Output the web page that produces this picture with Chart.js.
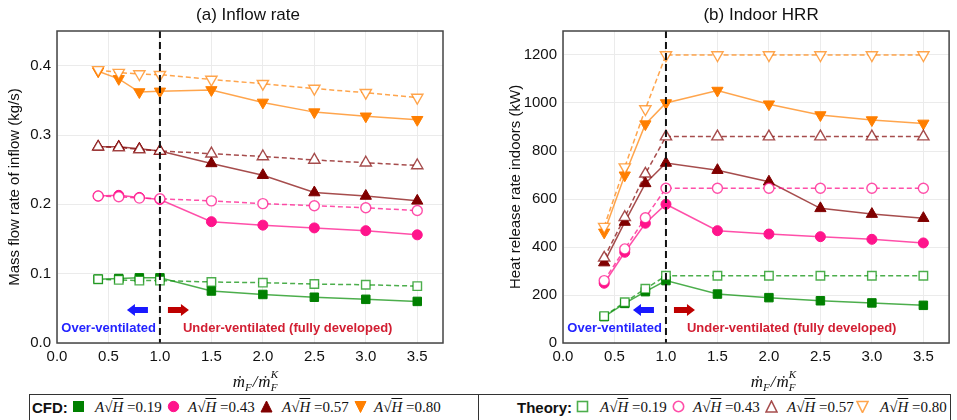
<!DOCTYPE html>
<html lang="en">
  <head>
    <meta charset="utf-8" />
    <title>Inflow rate and indoor HRR</title>
    <script src="https://cdn.jsdelivr.net/npm/chart.js@4.4.1/dist/chart.umd.min.js"></script>
    <style>
      body { margin: 0; width: 957px; height: 420px; background: #fff; position: relative; overflow: hidden; }
      .box { position: absolute; }
      .legend { position: absolute; top: 394px; height: 30px; border: 1.5px solid #333; box-sizing: border-box; }
      .lg { position: absolute; top: 399px; line-height: 16px; white-space: nowrap; }
      .head { font: bold 15px "Liberation Sans", Arial, sans-serif; color: #111; }
      .math { font: 15px "Liberation Serif", "DejaVu Serif", serif; color: #111; }
      .math i { font-style: italic; }
      .ov { text-decoration: overline; }
    </style>
  </head>
  <body>
    <div class="box" style="left:0; top:0; width:480px; height:392px"><canvas id="inflow_chart"></canvas></div>
    <div class="box" style="left:480px; top:0; width:477px; height:392px"><canvas id="hrr_chart"></canvas></div>
    <div class="legend" style="left:29px; width:450px"></div>
    <div class="legend" style="left:478px; width:473px"></div>
    <div id="legend_items"></div>
    <script>
      // fuel ratio m_F / m_F^K
      const ratio = [0.4, 0.6, 0.8, 1.0, 1.5, 2.0, 2.5, 3.0, 3.5];
      const openings = ["0.19", "0.43", "0.57", "0.80"];

      // (a) inflow rate, kg/s
      const inflowCFD_019 = [0.092, 0.093, 0.094, 0.094, 0.075, 0.070, 0.066, 0.063, 0.060];
      const inflowCFD_043 = [0.212, 0.213, 0.210, 0.207, 0.175, 0.170, 0.166, 0.162, 0.156];
      const inflowCFD_057 = [0.283, 0.283, 0.280, 0.277, 0.259, 0.242, 0.217, 0.212, 0.205];
      const inflowCFD_080 = [0.392, 0.381, 0.362, 0.363, 0.365, 0.347, 0.333, 0.327, 0.322];
      const inflowTheory_019 = [0.092, 0.091, 0.090, 0.090, 0.088, 0.087, 0.085, 0.084, 0.082];
      const inflowTheory_043 = [0.212, 0.211, 0.209, 0.208, 0.205, 0.201, 0.198, 0.195, 0.191];
      const inflowTheory_057 = [0.283, 0.282, 0.279, 0.277, 0.273, 0.269, 0.264, 0.260, 0.256];
      const inflowTheory_080 = [0.394, 0.390, 0.388, 0.387, 0.380, 0.374, 0.367, 0.361, 0.354];

      // (b) indoor HRR, kW
      const hrrCFD_019 = [110, 165, 214, 260, 204, 189, 176, 167, 157];
      const hrrCFD_043 = [249, 378, 499, 578, 468, 454, 443, 432, 417];
      const hrrCFD_057 = [335, 504, 665, 750, 720, 672, 561, 537, 520];
      const hrrCFD_080 = [461, 699, 912, 1000, 1052, 995, 950, 929, 915];
      const hrrTheory_019 = [112, 170, 226, 280, 280, 280, 280, 280, 280];
      const hrrTheory_043 = [260, 392, 522, 645, 645, 645, 645, 645, 645];
      const hrrTheory_057 = [355, 524, 705, 860, 860, 860, 860, 860, 860];
      const hrrTheory_080 = [485, 733, 975, 1200, 1200, 1200, 1200, 1200, 1200];

      const xTicks = [0, 0.5, 1.0, 1.5, 2.0, 2.5, 3.0, 3.5];
      const inflowTicks = [0, 0.1, 0.2, 0.3, 0.4];
      const hrrTicks = [0, 200, 400, 600, 800, 1000, 1200];

      const colors = ["rgb(0,128,0)", "rgb(255,20,140)", "rgb(128,0,0)", "rgb(255,127,0)"];
      const lineColors = ["rgba(0,140,0,0.7)", "rgba(255,20,140,0.75)", "rgba(128,0,0,0.7)", "rgba(255,127,0,0.7)"];
      const styles = [
        { pointStyle: "rect", radius: 6, rot: 0 },
        { pointStyle: "circle", radius: 5, rot: 0 },
        { pointStyle: "triangle", radius: 6.5, rot: 0 },
        { pointStyle: "triangle", radius: 6.5, rot: 180 },
      ];

      const SANS = '"Liberation Sans", Arial, sans-serif';
      const SERIF = '"Liberation Serif", "DejaVu Serif", serif';

      function pts(values) {
        return values.map((v, i) => ({ x: ratio[i], y: v }));
      }

      function buildDatasets(cfd, theory) {
        const sets = [];
        theory.forEach((vals, k) => {
          sets.push({
            label: "Theory " + openings[k],
            data: pts(vals),
            borderColor: lineColors[k],
            borderWidth: 1.5,
            borderDash: [5, 3],
            pointStyle: styles[k].pointStyle,
            pointRadius: styles[k].radius,
            pointRotation: styles[k].rot,
            pointBackgroundColor: "#fff",
            pointBorderColor: lineColors[k],
            pointBorderWidth: 1.4,
            order: 0,
          });
        });
        cfd.forEach((vals, k) => {
          sets.push({
            label: "CFD " + openings[k],
            data: pts(vals),
            borderColor: lineColors[k],
            borderWidth: 1.5,
            pointStyle: styles[k].pointStyle,
            pointRadius: styles[k].radius,
            pointRotation: styles[k].rot,
            pointBackgroundColor: colors[k],
            pointBorderColor: colors[k],
            pointBorderWidth: 1,
            order: 1,
          });
        });
        return sets;
      }

      function drawArrow(ctx, tail, tip, y, color) {
        const dir = Math.sign(tip - tail);
        const headLen = 8;
        const base = tip - dir * headLen;
        ctx.fillStyle = color;
        ctx.beginPath();
        ctx.moveTo(tail, y - 3);
        ctx.lineTo(base, y - 3);
        ctx.lineTo(base, y - 6);
        ctx.lineTo(tip, y);
        ctx.lineTo(base, y + 6);
        ctx.lineTo(base, y + 3);
        ctx.lineTo(tail, y + 3);
        ctx.closePath();
        ctx.fill();
      }

      function drawXTitle(ctx, cx, cy) {
        const parts = [
          { t: "\u1E41", s: 17, dy: 0, it: true },
          { t: "F", s: 11, dy: 4, it: true },
          { t: "/", s: 17, dy: 0, it: true, pad: 1 },
          { t: "\u1E41", s: 17, dy: 0, it: true },
          { t: "F", s: 11, dy: 4, it: true, sup: "K" },
        ];
        let total = 0;
        parts.forEach((p) => {
          ctx.font = (p.it ? "italic " : "") + p.s + "px " + SERIF;
          p.w = ctx.measureText(p.t).width + (p.pad || 0) * 2;
          total += p.w;
        });
        let x = cx - total / 2;
        ctx.fillStyle = "#111";
        ctx.textAlign = "left";
        ctx.textBaseline = "alphabetic";
        parts.forEach((p) => {
          ctx.font = (p.it ? "italic " : "") + p.s + "px " + SERIF;
          ctx.fillText(p.t, x + (p.pad || 0), cy + 5 + p.dy);
          if (p.sup) ctx.fillText(p.sup, x, cy - 4);
          x += p.w;
        });
      }

      const decor = {
        id: "decor",
        afterDatasetsDraw(chart, args, opts) {
          const ctx = chart.ctx;
          const a = chart.chartArea;
          const x1 = chart.scales.x.getPixelForValue(1.0);
          ctx.save();
          // regime boundary
          ctx.strokeStyle = "#111";
          ctx.lineWidth = 2;
          ctx.setLineDash([7, 4]);
          ctx.beginPath();
          ctx.moveTo(x1, a.top);
          ctx.lineTo(x1, a.bottom);
          ctx.stroke();
          ctx.setLineDash([]);
          // plot frame
          ctx.strokeStyle = "#444";
          ctx.lineWidth = 1.5;
          ctx.strokeRect(a.left, a.top, a.right - a.left, a.bottom - a.top);
          // arrows and regime labels
          drawArrow(ctx, x1 - 12, x1 - 33, a.bottom - 33, "rgb(25,25,255)");
          drawArrow(ctx, x1 + 8, x1 + 29, a.bottom - 33, "rgb(190,0,0)");
          ctx.font = "bold 13px " + SANS;
          ctx.textBaseline = "middle";
          ctx.textAlign = "right";
          ctx.fillStyle = "rgb(35,35,255)";
          ctx.fillText("Over-ventilated", x1 - 4, a.bottom - 15);
          ctx.textAlign = "left";
          ctx.fillStyle = "rgb(210,30,50)";
          ctx.fillText("Under-ventilated (fully developed)", x1 + opts.underGap, a.bottom - 15);
          // panel title
          ctx.font = "17px " + SANS;
          ctx.textAlign = "center";
          ctx.fillStyle = "#111";
          ctx.fillText(opts.title, (a.left + a.right) / 2 + opts.titleShift, 15);
          drawXTitle(ctx, (a.left + a.right) / 2 + opts.xTitleShift, 382);
          ctx.restore();
        },
      };

      function makeChart(id, cfd, theory, yMax, yTicks, yTitle, yWidth, rightPad, yTitlePad, opts) {
        return new Chart(document.getElementById(id), {
          type: "line",
          data: { datasets: buildDatasets(cfd, theory) },
          options: {
            responsive: true,
            maintainAspectRatio: false,
            animation: false,
            layout: { padding: { left: 0, top: 31, right: rightPad, bottom: 0 } },
            plugins: { legend: { display: false }, tooltip: { enabled: false }, decor: opts },
            scales: {
              x: {
                type: "linear",
                min: 0,
                max: 3.75,
                afterBuildTicks: (s) => { s.ticks = xTicks.map((v) => ({ value: v })); },
                afterFit: (s) => { s.height = 49; },
                grid: { color: "#ebebeb", drawTicks: false },
                border: { display: false },
                ticks: { padding: 5, color: "#111", font: { family: SANS, size: 15 }, callback: (v) => v.toFixed(1) },
              },
              y: {
                min: 0,
                max: yMax,
                afterBuildTicks: (s) => { s.ticks = yTicks.map((v) => ({ value: v })); },
                afterFit: (s) => { s.width = yWidth; },
                grid: { color: "#ebebeb", drawTicks: false },
                border: { display: false },
                ticks: {
                  padding: 6,
                  color: "#111",
                  font: { family: SANS, size: 15 },
                  callback: (v) => (yMax < 1 ? v.toFixed(1) : String(v)),
                },
                title: { display: true, text: yTitle, color: "#111", font: { family: SANS, size: 15 }, padding: { top: yTitlePad, bottom: 0 } },
              },
            },
          },
          plugins: [decor],
        });
      }

      makeChart(
        "inflow_chart",
        [inflowCFD_019, inflowCFD_043, inflowCFD_057, inflowCFD_080],
        [inflowTheory_019, inflowTheory_043, inflowTheory_057, inflowTheory_080],
        0.45, inflowTicks, "Mass flow rate of inflow (kg/s)", 57, 37, 6,
        { title: "(a) Inflow rate", titleShift: -2, xTitleShift: 5, underGap: 23 }
      );
      makeChart(
        "hrr_chart",
        [hrrCFD_019, hrrCFD_043, hrrCFD_057, hrrCFD_080],
        [hrrTheory_019, hrrTheory_043, hrrTheory_057, hrrTheory_080],
        1300, hrrTicks, "Heat release rate indoors (kW)", 83, 6, 27,
        { title: "(b) Indoor HRR", titleShift: 5, xTitleShift: 17, underGap: 21 }
      );

      // legend rows
      function markerSvg(k, open) {
        const c = open ? lineColors[k] : colors[k];
        const fill = open ? "#fff" : c;
        const sw = open ? 1.6 : 1;
        let shape;
        if (k === 0) shape = '<rect x="1.5" y="1.5" width="10" height="10"/>';
        else if (k === 1) shape = '<circle cx="6.5" cy="6.5" r="5.2"/>';
        else if (k === 2) shape = '<polygon points="6.5,1 12,12 1,12"/>';
        else shape = '<polygon points="1,1.5 12,1.5 6.5,12.5"/>';
        return '<svg width="13" height="13" style="vertical-align:-1px"><g fill="' + fill + '" stroke="' + c + '" stroke-width="' + sw + '">' + shape + "</g></svg>";
      }
      function mathLabel(v) {
        return '<span class="math"><i>A</i>\u221A<span class="ov"><i>H</i></span> =' + v + "</span>";
      }
      const leftPos = { head: 32, marks: [72, 167, 260, 354], texts: [95, 188, 282, 374] };
      const rightPos = { head: 517, marks: [576, 672, 765, 856], texts: [600, 693, 787, 880] };
      let html = "";
      [[leftPos, "CFD:", false], [rightPos, "Theory:", true]].forEach(([p, head, open]) => {
        html += '<div class="lg head" style="left:' + p.head + 'px">' + head + "</div>";
        openings.forEach((v, k) => {
          html += '<div class="lg" style="left:' + p.marks[k] + 'px">' + markerSvg(k, open) + "</div>";
          html += '<div class="lg" style="left:' + p.texts[k] + 'px">' + mathLabel(v) + "</div>";
        });
      });
      document.getElementById("legend_items").innerHTML = html;
    </script>
  </body>
</html>
